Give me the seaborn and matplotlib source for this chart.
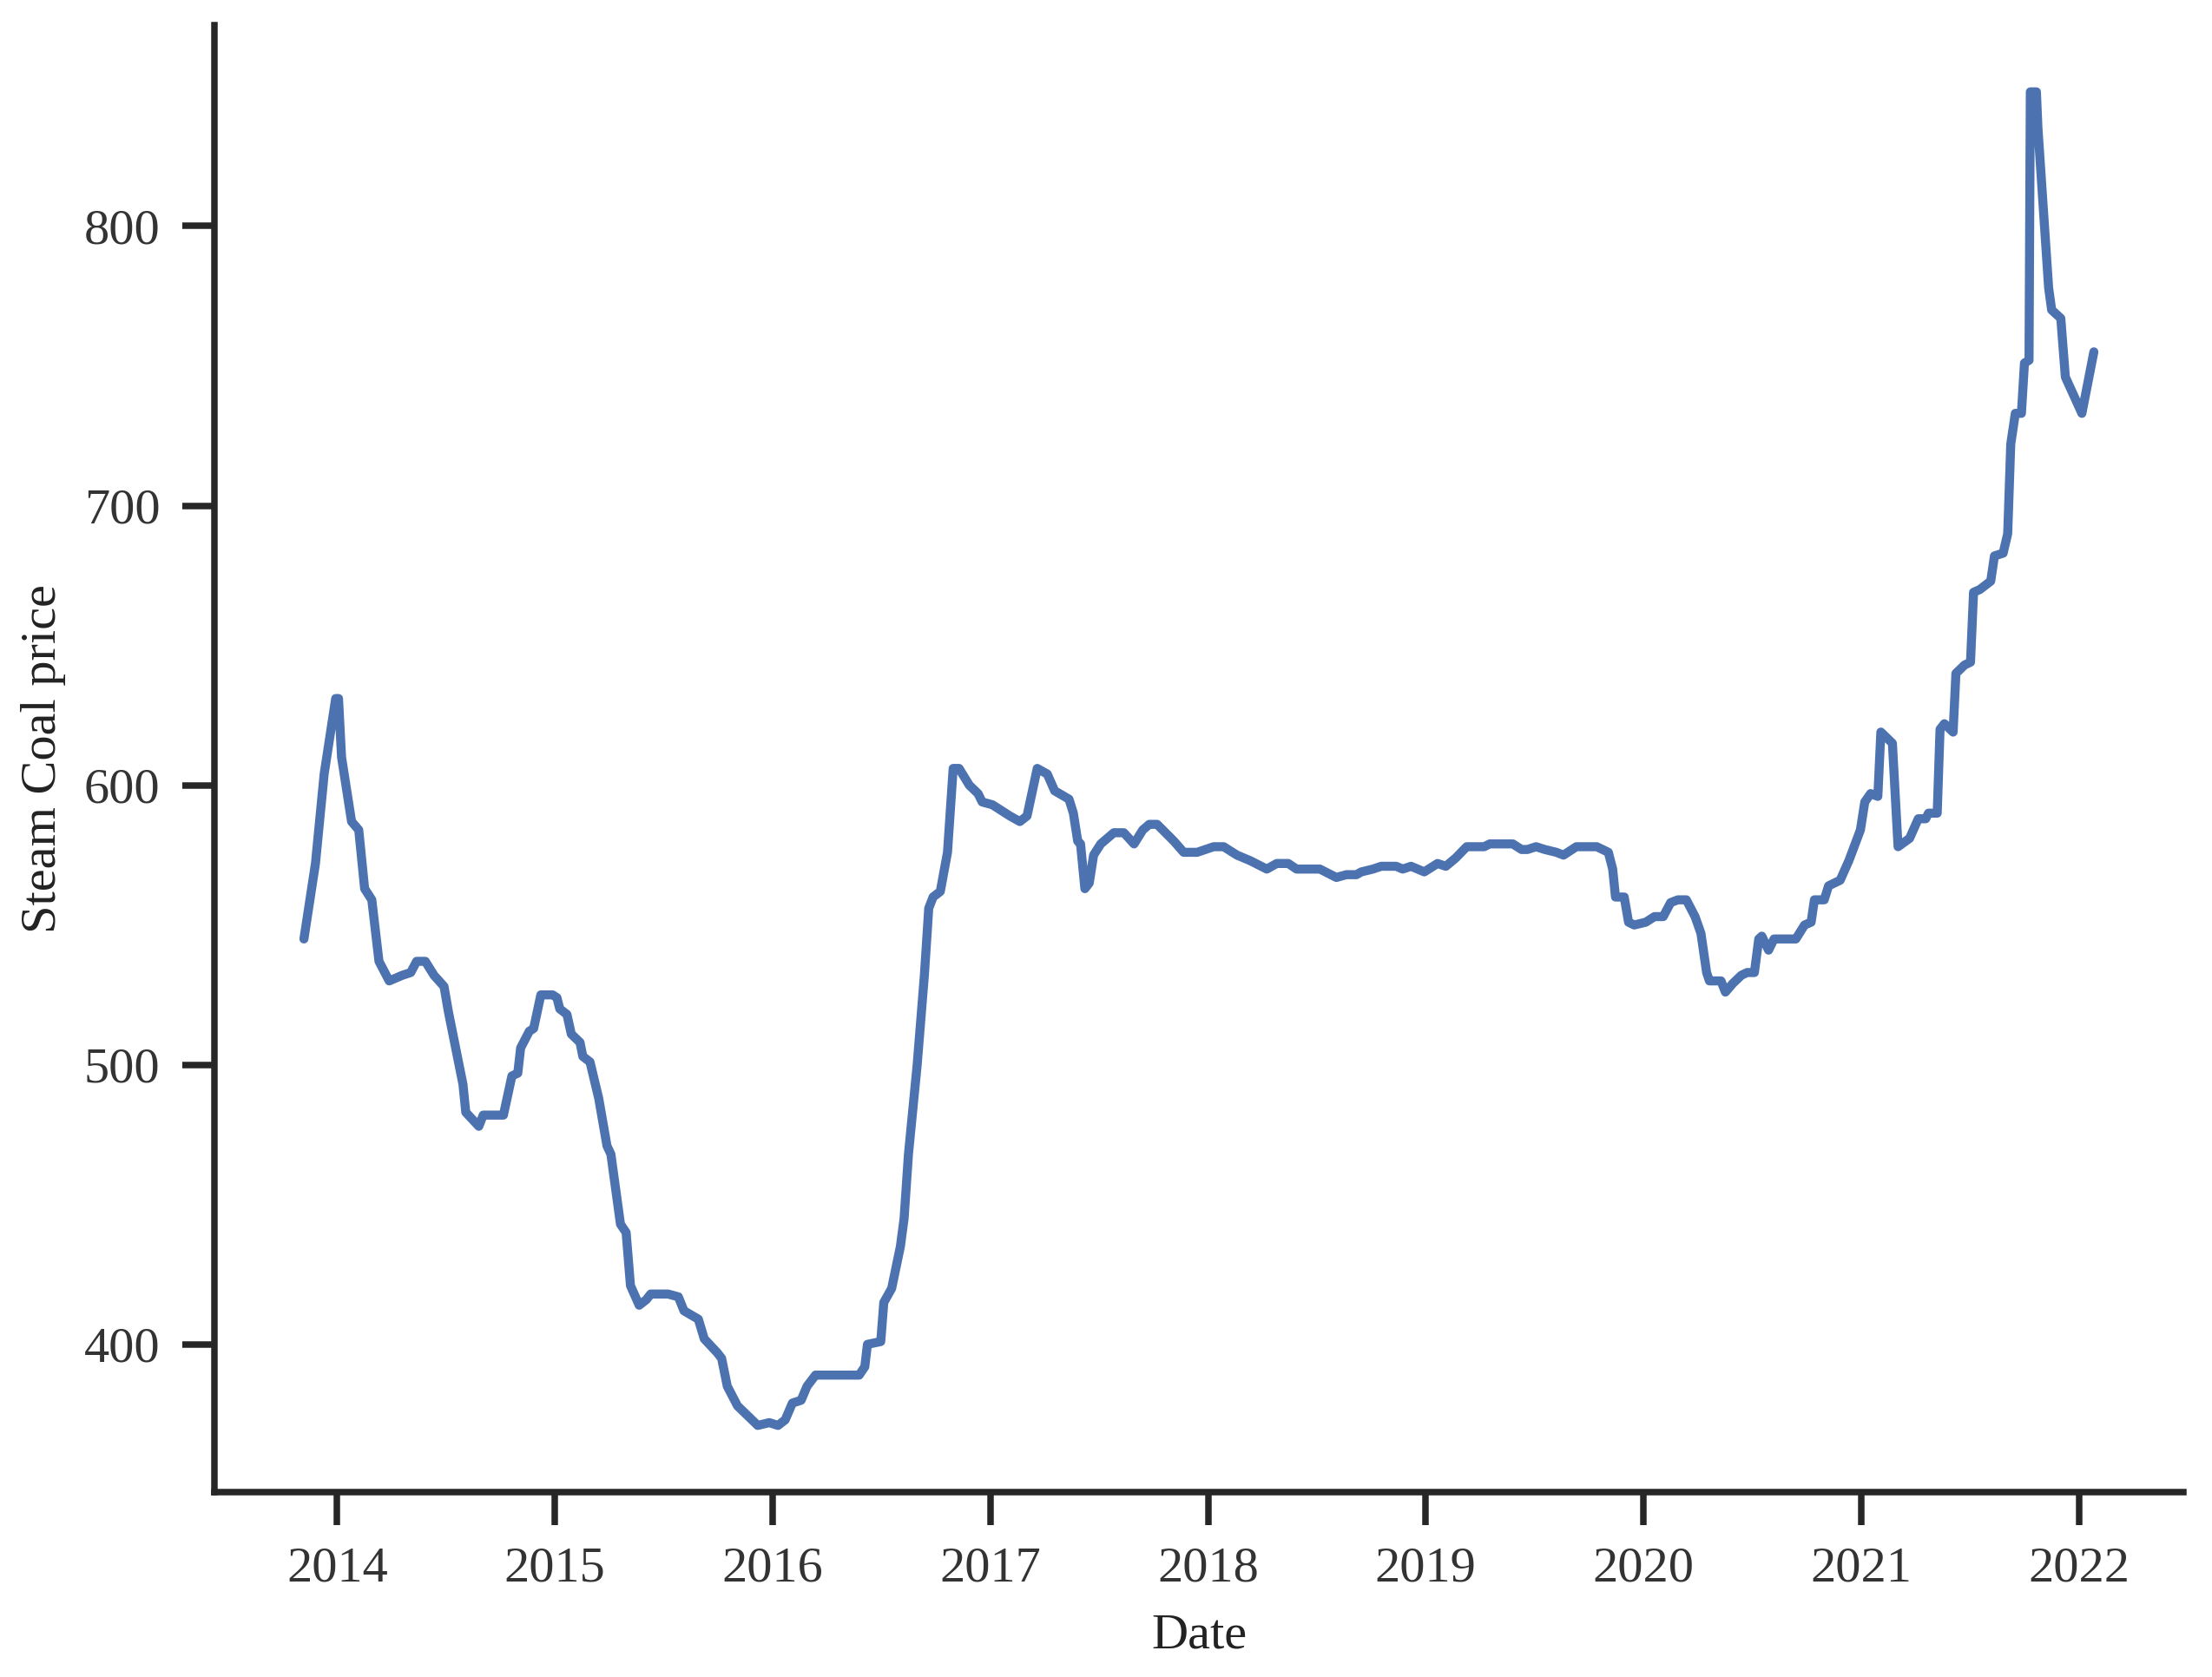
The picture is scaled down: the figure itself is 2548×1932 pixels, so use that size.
import numpy as np
import pandas as pd
import matplotlib
matplotlib.use("Agg")
import matplotlib.pyplot as plt
import seaborn as sns

# Dates as decimal years
year_frac = [
    2013.847, 2013.900, 2013.940, 2013.993, 2014.006, 2014.020, 2014.066, 2014.099,
    2014.126, 2014.159, 2014.192, 2014.239, 2014.299, 2014.338, 2014.365, 2014.405,
    2014.445, 2014.491, 2014.511, 2014.578, 2014.591, 2014.651, 2014.671, 2014.764,
    2014.803, 2014.830, 2014.843, 2014.883, 2014.903, 2014.936, 2014.990, 2015.010,
    2015.023, 2015.056, 2015.076, 2015.116, 2015.129, 2015.162, 2015.202, 2015.240,
    2015.258, 2015.302, 2015.328, 2015.348, 2015.388, 2015.421, 2015.441, 2015.521,
    2015.568, 2015.594, 2015.660, 2015.687, 2015.747, 2015.767, 2015.793, 2015.840,
    2015.933, 2015.986, 2016.026, 2016.059, 2016.092, 2016.132, 2016.159, 2016.198,
    2016.398, 2016.424, 2016.436, 2016.497, 2016.511, 2016.547, 2016.587, 2016.604,
    2016.624, 2016.664, 2016.697, 2016.717, 2016.737, 2016.770, 2016.803, 2016.829,
    2016.856, 2016.903, 2016.943, 2016.962, 2017.009, 2017.089, 2017.135, 2017.168,
    2017.215, 2017.261, 2017.295, 2017.361, 2017.381, 2017.401, 2017.414, 2017.434,
    2017.454, 2017.474, 2017.507, 2017.567, 2017.613, 2017.660, 2017.700, 2017.730,
    2017.766, 2017.843, 2017.888, 2017.950, 2018.026, 2018.072, 2018.133, 2018.194,
    2018.270, 2018.316, 2018.369, 2018.407, 2018.514, 2018.590, 2018.636, 2018.682,
    2018.705, 2018.758, 2018.796, 2018.865, 2018.895, 2018.933, 2018.994, 2019.055,
    2019.093, 2019.139, 2019.189, 2019.269, 2019.295, 2019.401, 2019.441, 2019.468,
    2019.508, 2019.548, 2019.601, 2019.634, 2019.693, 2019.787, 2019.840, 2019.860,
    2019.873, 2019.913, 2019.933, 2019.959, 2020.012, 2020.052, 2020.092, 2020.126,
    2020.159, 2020.198, 2020.238, 2020.265, 2020.291, 2020.304, 2020.357, 2020.377,
    2020.410, 2020.450, 2020.477, 2020.510, 2020.530, 2020.544, 2020.575, 2020.600,
    2020.700, 2020.740, 2020.770, 2020.785, 2020.830, 2020.850, 2020.903, 2020.943,
    2020.996, 2021.016, 2021.043, 2021.076, 2021.090, 2021.143, 2021.169, 2021.222,
    2021.262, 2021.296, 2021.309, 2021.349, 2021.362, 2021.382, 2021.422, 2021.435,
    2021.475, 2021.502, 2021.516, 2021.545, 2021.595, 2021.612, 2021.652, 2021.673,
    2021.687, 2021.708, 2021.736, 2021.750, 2021.771, 2021.777, 2021.805, 2021.812,
    2021.861, 2021.875, 2021.917, 2021.938, 2022.014, 2022.069,
]

steam_coal_price = [
    545, 572, 604, 631, 631, 610, 587, 584,
    563, 559, 537, 530, 532, 533, 537, 537,
    532, 528, 519, 493, 483, 478, 482, 482,
    496, 497, 506, 512, 513, 525, 525, 524,
    520, 518, 511, 508, 503, 501, 488, 471,
    468, 443, 440, 421, 414, 416, 418, 418,
    417, 412, 409, 402, 397, 395, 385, 378,
    371, 372, 371, 373, 379, 380, 385, 389,
    389, 392, 400, 401, 415, 420, 435, 445,
    468, 500, 532, 556, 560, 562, 576, 606,
    606, 600, 597, 594, 593, 589, 587, 589,
    606, 604, 598, 595, 590, 580, 579, 563,
    565, 575, 579, 583, 583, 579, 584, 586,
    586, 580, 576, 576, 578, 578, 575, 573,
    570, 572, 572, 570, 570, 567, 568, 568,
    569, 570, 571, 571, 570, 571, 569, 572,
    571, 574, 578, 578, 579, 579, 577, 577,
    578, 577, 576, 575, 578, 578, 576, 570,
    560, 560, 551, 550, 551, 553, 553, 558,
    559, 559, 553, 547, 533, 530, 530, 526,
    529, 532, 533, 533, 545, 546, 541, 545,
    545, 550, 551, 559, 559, 564, 566, 573,
    584, 594, 597, 596, 619, 615, 578, 581,
    588, 588, 590, 590, 620, 622, 619, 640,
    643, 644, 669, 670, 673, 682, 683, 690,
    722, 733, 733, 751, 752, 848, 848, 835,
    778, 770, 767, 746, 733, 755,
]


def to_date(y):
    yr = int(np.floor(y))
    start = pd.Timestamp(year=yr, month=1, day=1)
    end = pd.Timestamp(year=yr + 1, month=1, day=1)
    return start + (end - start) * (y - yr)


df = pd.DataFrame({
    "Date": [to_date(y) for y in year_frac],
    "Steam Coal price": steam_coal_price,
})

sns.set_theme(style="ticks", context="talk")
plt.rcParams["font.family"] = ["Liberation Serif", "DejaVu Serif"]

W, H, DPI = 2548, 1932, 300
fig = plt.figure(figsize=(W / DPI, H / DPI), dpi=DPI)
ax = fig.add_axes([247 / W, 1 - 1719 / H, (2515 - 247) / W, (1719 - 29) / H])

sns.lineplot(data=df, x="Date", y="Steam Coal price", ax=ax,
             color="#4C72B0", linewidth=2.5)
sns.despine(ax=ax)

for side in ["left", "bottom"]:
    ax.spines[side].set_linewidth(1.8)
ax.tick_params(axis="both", labelsize=14, length=9, width=1.8, pad=6,
               labelcolor="#333333")
ax.set_xlabel("Date", fontsize=14, color="#222222", labelpad=6)
ax.set_ylabel("Steam Coal price", fontsize=14, color="#222222", labelpad=5)

fig.savefig("out.png", dpi=DPI)
